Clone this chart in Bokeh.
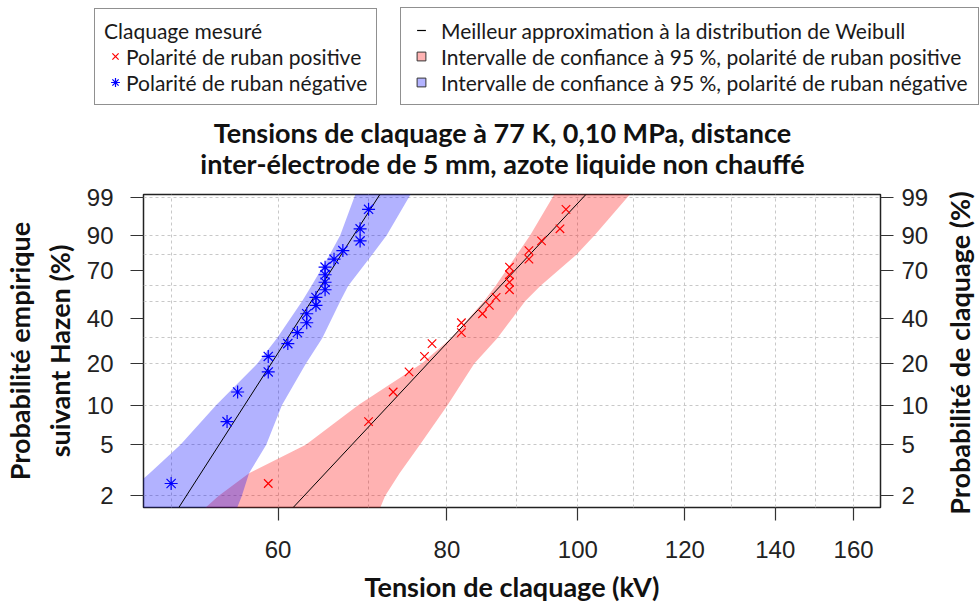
import numpy as np
from bokeh.plotting import figure
from bokeh.layouts import column, row
from bokeh.models import (Range1d, FixedTicker, LinearAxis, Legend, LegendItem, Label,
                          ColumnDataSource, CustomJSTickFormatter, BasicTickFormatter)
from bokeh.embed import file_html
from bokeh.resources import INLINE

# ---------------- data ----------------
hazen_pct = [2.5, 7.5, 12.5, 17.5, 22.5, 27.5, 32.5, 37.5, 42.5, 47.5,
             52.5, 57.5, 62.5, 67.5, 72.5, 77.5, 82.5, 87.5, 92.5, 97.5]
kv_positive = [59, 70, 73, 75, 77, 78, 82, 82, 85, 86,
               87, 89, 89, 89, 89, 92, 92, 94, 97, 98]
kv_negative = [50, 55, 56, 59, 59, 61, 62, 63, 63, 64,
               64, 65, 65, 65, 65, 66, 67, 69, 69, 70]

# Weibull best fits (scale in kV, shape)
fit_positive = {"scale": 88.3, "shape": 11.4}
fit_negative = {"scale": 64.9, "shape": 16.6}

# 95 % confidence bands (kV) at given probabilities (%)
band_pct = [1.5, 2, 3, 5, 10, 20, 30, 50, 60, 80, 90, 99.3]
band_pos_low = [52.6, 54.2, 57.1, 62.9, 68.8, 76.6, 80.6, 85.2, 86.9, 90.1, 92.2, 96.2]
band_pos_high = [71.2, 72.0, 73.8, 76.4, 80.1, 83.8, 87.2, 91.4, 93.8, 99.7, 102.9, 109.5]
band_neg_low = [44.8, 46.1, 48.2, 50.8, 54.0, 57.9, 59.9, 62.5, 63.5, 65.5, 66.7, 68.5]
band_neg_high = [55.8, 56.4, 57.1, 58.8, 60.4, 62.9, 64.7, 66.7, 67.6, 70.4, 72.2, 75.3]

y_ticks_pct = [2, 5, 10, 20, 40, 70, 90, 99]
y_grid_pct = [2, 5, 10, 20, 30, 50, 60, 80, 90, 99]
x_ticks_kv = [60, 80, 100, 120, 140, 160]
x_grid_kv = [50, 60, 70, 80, 90, 100, 110, 120, 130, 140, 150, 160]

title_lines = ["Tensions de claquage à 77 K, 0,10 MPa, distance",
               "inter-électrode de 5 mm, azote liquide non chauffé"]

X_MIN, X_MAX = 47.7, 167.5
P_MIN, P_MAX = 1.624, 99.202


def weib(pct):
    q = np.asarray(pct, dtype=float) / 100.0
    return np.log(-np.log(1.0 - q))


Y_MIN, Y_MAX = float(weib(P_MIN)), float(weib(P_MAX))

TXT = "Lato"
TICKFONT = "Liberation Sans"
BOLD_SIZE = "27px"
W = 979
W_RIGHT = 40
W_MAIN = W - W_RIGHT
H_TOP = 182
H_MAIN = 605 - H_TOP
FRAME_TOP = 194 - H_TOP
FRAME_BOTTOM = 605 - 511

# ---------------- main plot ----------------
p = figure(width=W_MAIN, height=H_MAIN, x_axis_type="log",
           x_range=Range1d(X_MIN, X_MAX), y_range=Range1d(Y_MIN, Y_MAX),
           output_backend="svg", toolbar_location=None, title=None,
           min_border_left=137, min_border_right=W_MAIN - 880, min_border_top=FRAME_TOP,
           min_border_bottom=FRAME_BOTTOM)
p.background_fill_color = "white"
p.border_fill_color = "white"
p.outline_line_color = "#222222"
p.outline_line_width = 1.5

p.xgrid.ticker = FixedTicker(ticks=x_grid_kv)
p.ygrid.ticker = FixedTicker(ticks=[float(v) for v in weib(y_grid_pct)])
for g in (p.xgrid, p.ygrid):
    g.grid_line_color = "#c8c8c8"
    g.grid_line_dash = "3 3"
    g.grid_line_width = 1

src_pos = ColumnDataSource(dict(y=weib(band_pct), x1=band_pos_low, x2=band_pos_high))
src_neg = ColumnDataSource(dict(y=weib(band_pct), x1=band_neg_low, x2=band_neg_high))
p.harea(y="y", x1="x1", x2="x2", source=src_pos, fill_color="#ff0000", fill_alpha=0.3)
p.harea(y="y", x1="x1", x2="x2", source=src_neg, fill_color="#0000ff", fill_alpha=0.3)

w_line = np.array([Y_MIN, Y_MAX])
for fit in (fit_positive, fit_negative):
    p.line(fit["scale"] * np.exp(w_line / fit["shape"]), w_line, line_color="black", line_width=1)

y_pts = weib(hazen_pct)
p.scatter(kv_positive, y_pts, marker="x", size=12, line_color="#ff0000", line_width=1.2)
p.scatter(kv_negative, y_pts, marker="asterisk", size=13, line_color="#0000ff", line_width=1.2)

fmt_prob = CustomJSTickFormatter(code="return String(Math.round(100*(1-Math.exp(-Math.exp(tick)))));")
ytick_vals = [float(v) for v in weib(y_ticks_pct)]
left_axis = p.left[0]
bottom_axis = p.below[0]
left_axis.ticker = FixedTicker(ticks=ytick_vals)
left_axis.formatter = fmt_prob
bottom_axis.ticker = FixedTicker(ticks=x_ticks_kv)
bottom_axis.formatter = BasicTickFormatter()
right_axis = LinearAxis(ticker=FixedTicker(ticks=ytick_vals), formatter=fmt_prob)
p.add_layout(right_axis, "right")

for ax in (bottom_axis, left_axis, right_axis):
    ax.axis_line_color = None
    ax.major_tick_out = 13
    ax.major_tick_in = 0
    ax.major_tick_line_color = "#333333"
    ax.major_tick_line_width = 1.2
    ax.minor_tick_line_color = None
    ax.major_label_text_font = TICKFONT
    ax.major_label_text_font_size = "24px"
    ax.major_label_text_color = "#222222"
    ax.axis_label_text_font = TXT
    ax.axis_label_text_font_style = "bold"
    ax.axis_label_text_font_size = BOLD_SIZE
    ax.axis_label_text_color = "#111111"
bottom_axis.major_label_standoff = 20
left_axis.major_label_standoff = 17
right_axis.major_label_standoff = 8

bottom_axis.axis_label = "Tension de claquage (kV)"
bottom_axis.axis_label_standoff = 9
left_axis.axis_label = "Probabilité empirique\nsuivant Hazen (%)"
left_axis.axis_label_standoff = 8

# ---------------- right-hand title strip (label reads bottom to top) ----------------
rf = figure(width=W_RIGHT, height=H_MAIN, output_backend="svg", toolbar_location=None,
            title=None, x_axis_location=None, y_range=p.y_range, x_range=Range1d(0, 1),
            min_border_left=W_RIGHT - 2, min_border_right=0, min_border_top=FRAME_TOP,
            min_border_bottom=FRAME_BOTTOM)
rf.outline_line_color = None
rf.grid.visible = False
rf.background_fill_color = "white"
rf.border_fill_color = "white"
ya = rf.left[0]
ya.axis_line_color = None
ya.major_tick_line_color = None
ya.minor_tick_line_color = None
ya.major_tick_out = 0
ya.major_label_text_font_size = "0px"
ya.major_label_text_color = None
ya.major_label_standoff = 0
ya.axis_label = "Probabilité de claquage (%)"
ya.axis_label_standoff = 0
ya.axis_label_text_font = TXT
ya.axis_label_text_font_style = "bold"
ya.axis_label_text_font_size = BOLD_SIZE
ya.axis_label_text_color = "#111111"

# ---------------- legend + title strip ----------------
lg = figure(width=W, height=H_TOP, output_backend="svg", toolbar_location=None, title=None,
            x_axis_location=None, y_axis_location=None, min_border=0,
            x_range=Range1d(0, 1), y_range=Range1d(0, 1))
lg.outline_line_color = None
lg.grid.visible = False
lg.background_fill_color = "white"
lg.border_fill_color = "white"
for fig in (lg, p, rf):
    if "frame_align" in fig.properties():
        fig.frame_align = False

# title lines (screen units measured from the strip's bottom edge)
for text, cy in zip(title_lines, (132, 163)):
    lg.add_layout(Label(x=502, y=H_TOP - cy, x_units="screen", y_units="screen", text=text,
                        text_font=TXT, text_font_size=BOLD_SIZE, text_font_style="bold",
                        text_color="#111111", text_align="center", text_baseline="middle"))

# legend keys: one off-canvas point each, only their legend swatches show
OFF = [-5.0]
e_pos = lg.scatter(x=OFF, y=OFF, marker="x", line_color="#ff0000", line_width=1.2)
e_neg = lg.scatter(x=OFF, y=OFF, marker="asterisk", line_color="#0000ff", line_width=1.2)
e_line = lg.scatter(x=OFF, y=OFF, marker="dash", line_color="black", line_width=1.2)
e_sq_pos = lg.scatter(x=OFF, y=OFF, marker="square", fill_color="#ffb3b3", line_color="#333333", line_width=1)
e_sq_neg = lg.scatter(x=OFF, y=OFF, marker="square", fill_color="#b3b3ff", line_color="#333333", line_width=1)

common = dict(glyph_width=22, glyph_height=26, label_height=26, spacing=0, padding=9,
              label_text_font=TXT, label_text_font_size="21px", label_text_color="#1a1a1a",
              border_line_color="#222222", border_line_width=1.5,
              background_fill_color="white", background_fill_alpha=1.0)

leg1 = Legend(items=[LegendItem(label="Polarité de ruban positive", renderers=[e_pos]),
                     LegendItem(label="Polarité de ruban négative", renderers=[e_neg])],
              title="Claquage mesuré", title_text_font=TXT, title_text_font_size="21px",
              title_text_font_style="normal", title_text_color="#1a1a1a", title_standoff=0,
              label_standoff=0, label_width=241, location=(94, H_TOP - 105), **common)
leg2 = Legend(items=[LegendItem(label="Meilleur approximation à la distribution de Weibull", renderers=[e_line]),
                     LegendItem(label="Intervalle de confiance à 95 %, polarité de ruban positive", renderers=[e_sq_pos]),
                     LegendItem(label="Intervalle de confiance à 95 %, polarité de ruban négative", renderers=[e_sq_neg])],
              label_standoff=9, label_width=528, location=(400, H_TOP - 105), **common)
lg.add_layout(leg1)
lg.add_layout(leg2)

layout = column(lg, row(p, rf, spacing=0), spacing=0)
open("out.html", "w").write(file_html(layout, INLINE))
